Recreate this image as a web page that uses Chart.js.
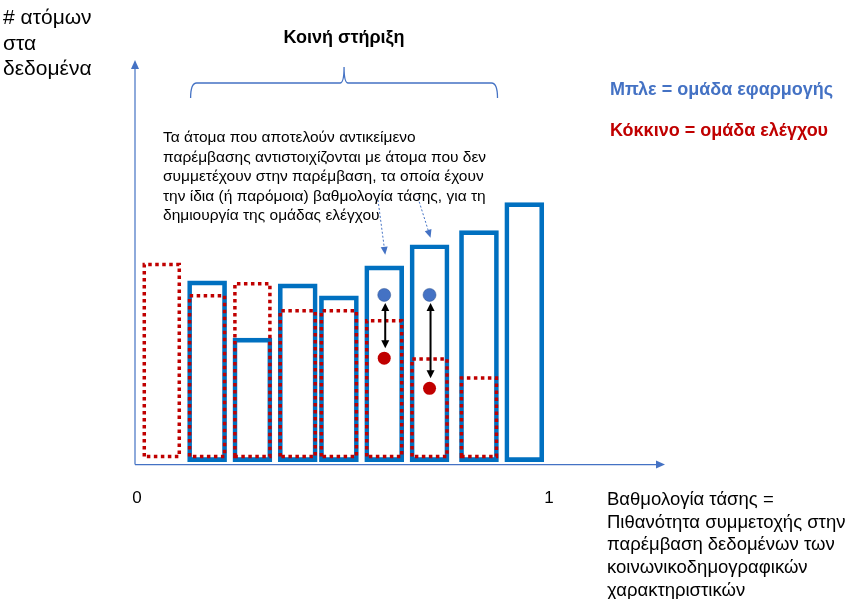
<!DOCTYPE html>
<html>
<head>
<meta charset="utf-8">
<script src="https://cdn.jsdelivr.net/npm/chart.js@4.4.1/dist/chart.umd.min.js"></script>
<style>
  html, body { margin: 0; padding: 0; background: #fff; }
  #wrap { width: 849px; height: 599px; }
</style>
</head>
<body>
<div id="wrap"><canvas id="chart" width="849" height="599"></canvas></div>
<script>
// propensity score bins (bar centres) and counts per group
const scores = [0.06, 0.17, 0.28, 0.39, 0.49, 0.60, 0.71, 0.83, 0.94];
const treated = [null, 18.0, 12.3, 17.7, 16.5, 19.5, 21.6, 23.0, 25.8];
const control = [19.8, 16.7, 17.9, 15.2, 15.2, 14.2, 10.4, 8.5, null];

// matched pairs shown with dots
const matchedScores = [0.60, 0.71];
const matchedTreated = [16.6, 16.6];
const matchedControl = [10.3, 7.3];

const commonSupport = [0.13, 0.875];
const xTicks = [0, 1];

const BLUE = '#0070C0';
const LIGHT_BLUE = '#4472C4';
const RED = '#C00000';
const FONT = "'Liberation Sans', Arial, sans-serif";

const annotationLines = [
    'Τα άτομα που αποτελούν αντικείμενο',
    'παρέμβασης αντιστοιχίζονται με άτομα που δεν',
    'συμμετέχουν στην παρέμβαση, τα οποία έχουν',
    'την ίδια (ή παρόμοια) βαθμολογία τάσης, για τη',
    'δημιουργία της ομάδας ελέγχου'
];
const yTitleLines = ['# ατόμων', 'στα', 'δεδομένα'];
const xTitleLines = [
    'Βαθμολογία τάσης =',
    'Πιθανότητα συμμετοχής στην',
    'παρέμβαση δεδομένων των',
    'κοινωνικοδημογραφικών',
    'χαρακτηριστικών'
];

function toPoints(xs, ys) {
    return xs.map((x, i) => ({ x: x, y: ys[i] }));
}

function arrowHead(ctx, x1, y1, x2, y2, len, half) {
    const a = Math.atan2(y2 - y1, x2 - x1);
    ctx.beginPath();
    ctx.moveTo(x2, y2);
    ctx.lineTo(x2 - len * Math.cos(a) + half * Math.sin(a), y2 - len * Math.sin(a) - half * Math.cos(a));
    ctx.lineTo(x2 - len * Math.cos(a) - half * Math.sin(a), y2 - len * Math.sin(a) + half * Math.cos(a));
    ctx.closePath();
    ctx.fill();
}

const diagramPlugin = {
    id: 'diagram',
    afterDatasetsDraw(chart) {
        const ctx = chart.ctx;
        const area = chart.chartArea;
        const xs = chart.scales.x;
        const ys = chart.scales.y;

        // control group: dotted outlines
        ctx.save();
        ctx.strokeStyle = RED;
        ctx.lineWidth = 3.5;
        ctx.setLineDash([3.5, 3.5]);
        chart.getDatasetMeta(1).data.forEach((bar, i) => {
            if (control[i] == null) return;
            const p = bar.getProps(['x', 'y', 'base', 'width'], true);
            const l = p.x - p.width / 2 + 2, r = p.x + p.width / 2 - 2;
            ctx.beginPath();
            ctx.moveTo(l, p.base - 5);
            ctx.lineTo(l, p.y + 1.75);
            ctx.lineTo(r, p.y + 1.75);
            ctx.lineTo(r, p.base - 5);
            ctx.closePath();
            ctx.stroke();
        });
        ctx.restore();

        // axes with arrows
        ctx.save();
        ctx.strokeStyle = LIGHT_BLUE;
        ctx.fillStyle = LIGHT_BLUE;
        ctx.lineWidth = 1.2;
        ctx.beginPath();
        ctx.moveTo(area.left, area.bottom);
        ctx.lineTo(area.right - 6, area.bottom);
        ctx.moveTo(area.left, area.bottom);
        ctx.lineTo(area.left, area.top + 6);
        ctx.stroke();
        arrowHead(ctx, area.left, area.bottom, area.right, area.bottom, 9, 4);
        arrowHead(ctx, area.left, area.bottom, area.left, area.top, 9, 4);

        // brace over the common support
        const bl = xs.getPixelForValue(commonSupport[0]);
        const br = xs.getPixelForValue(commonSupport[1]);
        const bm = (bl + br) / 2;
        ctx.lineWidth = 1.3;
        ctx.beginPath();
        ctx.moveTo(bl, 98);
        ctx.quadraticCurveTo(bl, 83, bl + 6, 83);
        ctx.lineTo(bm - 4, 83);
        ctx.quadraticCurveTo(bm, 83, bm, 67);
        ctx.quadraticCurveTo(bm, 83, bm + 4, 83);
        ctx.lineTo(br - 6, 83);
        ctx.quadraticCurveTo(br, 83, br, 98);
        ctx.stroke();
        ctx.fillStyle = '#000';
        ctx.font = 'bold 18px ' + FONT;
        ctx.textAlign = 'center';
        ctx.textBaseline = 'alphabetic';
        ctx.fillText('Κοινή στήριξη', bm, 43);

        // dashed pointers from the note to matched bars
        ctx.strokeStyle = LIGHT_BLUE;
        ctx.fillStyle = LIGHT_BLUE;
        ctx.lineWidth = 1;
        const pointers = [[378, 200, 0], [418, 198, 1]];
        pointers.forEach(([sx, sy, k]) => {
            const tx = xs.getPixelForValue(matchedScores[k]) + 1;
            const ty = ys.getPixelForValue(treated[5 + k]) - (k === 0 ? 11 : 7);
            ctx.setLineDash([2, 2]);
            ctx.beginPath();
            ctx.moveTo(sx, sy);
            ctx.lineTo(tx - (tx - sx) * 0.15, ty - (ty - sy) * 0.15);
            ctx.stroke();
            ctx.setLineDash([]);
            arrowHead(ctx, sx, sy, tx, ty, 8, 3.5);
        });

        // double arrows between matched dots
        ctx.strokeStyle = '#000';
        ctx.fillStyle = '#000';
        ctx.lineWidth = 2;
        matchedScores.forEach((s, k) => {
            const x = xs.getPixelForValue(s) + 1;
            const y1 = ys.getPixelForValue(matchedTreated[k]) + 8;
            const y2 = ys.getPixelForValue(matchedControl[k]) - 10;
            ctx.beginPath();
            ctx.moveTo(x, y1 + 6);
            ctx.lineTo(x, y2 - 6);
            ctx.stroke();
            arrowHead(ctx, x, y2, x, y1, 8, 4);
            arrowHead(ctx, x, y1, x, y2, 8, 4);
        });

        // texts
        ctx.fillStyle = '#000';
        ctx.textAlign = 'left';
        ctx.font = '15.5px ' + FONT;
        annotationLines.forEach((t, i) => ctx.fillText(t, 163, 142 + i * 19.5));
        ctx.font = '21px ' + FONT;
        yTitleLines.forEach((t, i) => ctx.fillText(t, 3, 24 + i * 25.5));
        ctx.font = '18.5px ' + FONT;
        xTitleLines.forEach((t, i) => ctx.fillText(t, 607, 505 + i * 22.7));
        ctx.font = 'bold 18px ' + FONT;
        ctx.fillStyle = LIGHT_BLUE;
        ctx.fillText('Μπλε = ομάδα εφαρμογής', 610, 95);
        ctx.fillStyle = RED;
        ctx.fillText('Κόκκινο = ομάδα ελέγχου', 610, 136);
        ctx.restore();
    }
};

new Chart(document.getElementById('chart'), {
    type: 'bar',
    data: {
        datasets: [
            {
                label: 'Μπλε = ομάδα εφαρμογής',
                data: toPoints(scores, treated),
                backgroundColor: 'rgba(0,0,0,0)',
                borderColor: BLUE,
                borderWidth: 4,
                borderSkipped: false,
                barThickness: 39,
                grouped: false
            },
            {
                label: 'Κόκκινο = ομάδα ελέγχου',
                data: toPoints(scores, control),
                backgroundColor: 'rgba(0,0,0,0)',
                borderWidth: 0,
                barThickness: 39,
                grouped: false
            },
            {
                type: 'scatter',
                data: toPoints(matchedScores, matchedTreated),
                backgroundColor: LIGHT_BLUE,
                borderColor: '#2F528F',
                borderWidth: 0.5,
                pointRadius: 6.5
            },
            {
                type: 'scatter',
                data: toPoints(matchedScores, matchedControl),
                backgroundColor: RED,
                borderWidth: 0,
                pointRadius: 6.5
            }
        ]
    },
    options: {
        responsive: false,
        devicePixelRatio: 1,
        animation: false,
        layout: { padding: { left: 135, right: 184, top: 60, bottom: 66 } },
        plugins: {
            legend: { display: false },
            tooltip: { enabled: false },
            title: { display: false }
        },
        scales: {
            x: {
                type: 'linear',
                min: -0.005,
                max: 1.2816,
                offset: false,
                grid: { display: false, drawTicks: false },
                border: { display: false },
                afterBuildTicks: axis => { axis.ticks = xTicks.map(v => ({ value: v })); },
                ticks: {
                    color: '#000',
                    padding: 24,
                    font: { family: FONT, size: 17 },
                    maxRotation: 0
                }
            },
            y: {
                display: false,
                min: -0.3,
                max: 40
            }
        }
    },
    plugins: [diagramPlugin]
});
</script>
</body>
</html>
